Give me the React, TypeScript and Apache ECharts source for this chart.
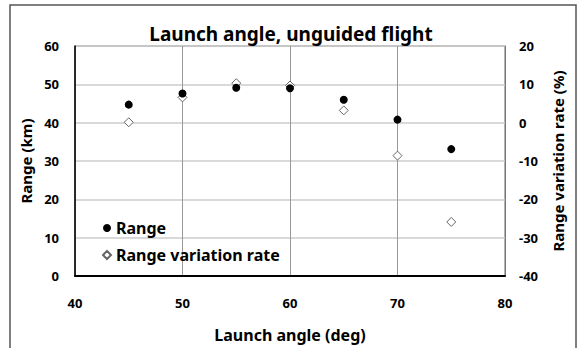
import React, { useEffect, useRef } from "react";
import * as echarts from "echarts";

const titleText = "Launch angle, unguided flight";
const xAxisName = "Launch angle (deg)";
const yLeftName = "Range (km)";
const yRightName = "Range variation rate (%)";
const rangeName = "Range";
const rateName = "Range variation rate";

const angles = [45, 50, 55, 60, 65, 70, 75];
const rangeKm = [44.7, 47.6, 49.1, 49.0, 46.0, 40.8, 33.1];
const ratePct = [0.1, 6.6, 10.3, 9.7, 3.2, -8.6, -25.9];

const FONT = "'Noto Sans', 'Noto Sans CJK KR', sans-serif";

export default function App() {
  const ref = useRef<HTMLDivElement>(null);
  useEffect(() => {
    if (!ref.current) return;
    const chart = echarts.init(ref.current, undefined, { renderer: "svg" });
    const labelStyle = { color: "#000", fontWeight: "bold" as const, fontSize: 13, fontFamily: FONT };
    const nameStyle = { color: "#000", fontWeight: "bold" as const, fontSize: 15, fontFamily: FONT };
    chart.setOption({
      animation: false,
      backgroundColor: "#fff",
      title: {
        text: titleText,
        left: "center",
        top: 19,
        textStyle: { color: "#000", fontWeight: "bold", fontSize: 19, fontFamily: FONT },
      },
      graphic: [
        {
          type: "rect",
          shape: { x: 10, y: 5, width: 566, height: 360 },
          style: { fill: "none", stroke: "#555", lineWidth: 1.5 },
          silent: true,
          z: -1,
        },
      ],
      legend: {
        orient: "vertical",
        left: 97,
        top: 215,
        itemGap: 11,
        itemWidth: 8,
        itemHeight: 8,
        textStyle: { ...nameStyle, fontSize: 16, padding: [9, 0, 0, 0] },
        data: [
          { name: rangeName, icon: "circle", itemStyle: { color: "#000", opacity: 1 } },
          { name: rateName, icon: "diamond" },
        ],
      },
      grid: {
        left: 75,
        right: 77,
        top: 46,
        bottom: 70,
        show: true,
        borderColor: "#666",
        borderWidth: 1,
      },
      xAxis: {
        type: "value",
        min: 40,
        max: 80,
        interval: 10,
        name: xAxisName,
        nameLocation: "middle",
        nameGap: 51,
        nameTextStyle: { ...nameStyle, fontSize: 16 },
        axisLine: { show: true, lineStyle: { color: "#000", width: 2 } },
        axisTick: { show: false },
        axisLabel: { ...labelStyle, margin: 20 },
        splitLine: { show: true, lineStyle: { color: "#999", width: 1 } },
      },
      yAxis: [
        {
          type: "value",
          min: 0,
          max: 60,
          interval: 10,
          position: "left",
          name: yLeftName,
          nameLocation: "middle",
          nameRotate: 90,
          nameGap: 40,
          nameTextStyle: nameStyle,
          axisLine: { show: true, lineStyle: { color: "#000", width: 1.5 } },
          axisTick: { show: false },
          axisLabel: { ...labelStyle, margin: 16 },
          splitLine: { show: true, lineStyle: { color: "#ccc", width: 1.5 } },
        },
        {
          type: "value",
          min: -40,
          max: 20,
          interval: 10,
          position: "right",
          name: yRightName,
          nameLocation: "middle",
          nameRotate: 90,
          nameGap: 45,
          nameTextStyle: nameStyle,
          axisLine: { show: true, lineStyle: { color: "#777", width: 1 } },
          axisTick: { show: false },
          axisLabel: { ...labelStyle, margin: 14 },
          splitLine: { show: false },
        },
      ],
      series: [
        {
          name: rangeName,
          type: "scatter",
          yAxisIndex: 0,
          symbol: "circle",
          symbolSize: 8,
          itemStyle: { color: "#000", opacity: 1 },
          data: angles.map((a, i) => [a, rangeKm[i]]),
          z: 3,
        },
        {
          name: rateName,
          type: "scatter",
          yAxisIndex: 1,
          symbol: "diamond",
          symbolSize: 9,
          itemStyle: { color: "#fff", borderColor: "#666", borderWidth: 1, opacity: 1 },
          data: angles.map((a, i) => [a, ratePct[i]]),
          z: 2,
        },
      ],
    });
    return () => chart.dispose();
  }, []);
  return (
    <div
      ref={ref}
      style={{ position: "fixed", left: 0, top: 0, width: 582, height: 348 }}
    />
  );
}
